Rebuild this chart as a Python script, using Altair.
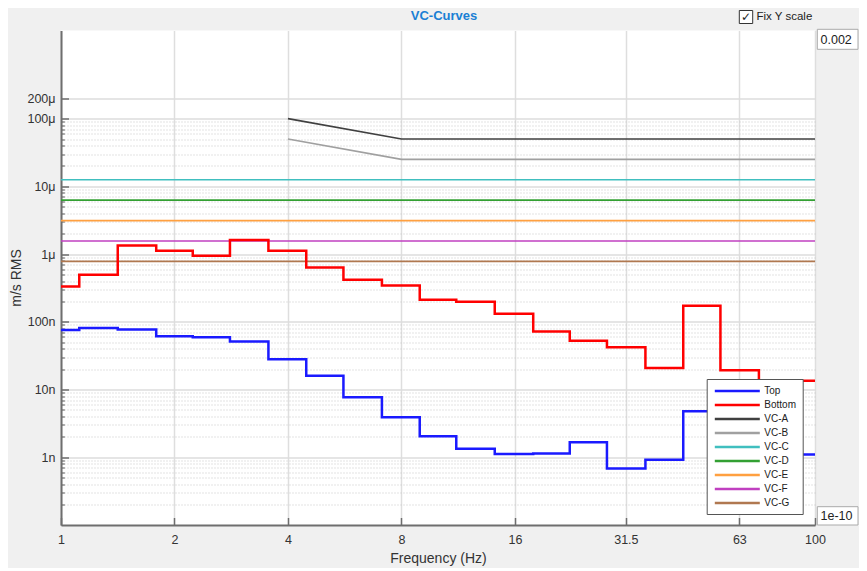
import altair as alt
import pandas as pd

# ---------------- data ----------------
freqs = [1, 1.25, 1.6, 2, 2.5, 3.15, 4, 5, 6.3, 8, 10, 12.5, 16, 20, 25, 31.5, 40, 50, 63, 80, 100]
top_vals = [76e-9, 81e-9, 77e-9, 61e-9, 59e-9, 51e-9, 28e-9, 16e-9, 7.7e-9, 3.9e-9, 2.04e-9,
            1.34e-9, 1.12e-9, 1.14e-9, 1.66e-9, 0.68e-9, 0.92e-9, 4.8e-9, 4.5e-9, 2.5e-9, 1.10e-9]
bottom_vals = [333e-9, 495e-9, 1.34e-6, 1.12e-6, 0.944e-6, 1.62e-6, 1.12e-6, 634e-9, 418e-9, 344e-9,
               212e-9, 198e-9, 131e-9, 72e-9, 52.6e-9, 42e-9, 20.8e-9, 173e-9, 19.2e-9, 13.5e-9, 13.5e-9]

vc_a_freq = [4, 8, 100]
vc_a_vals = [100e-6, 50e-6, 50e-6]
vc_b_freq = [4, 8, 100]
vc_b_vals = [50e-6, 25e-6, 25e-6]
flat_freq = [1, 100]
vc_c_val = 12.5e-6
vc_d_val = 6.25e-6
vc_e_val = 3.12e-6
vc_f_val = 1.56e-6
vc_g_val = 0.78e-6

series_names = ["Top", "Bottom", "VC-A", "VC-B", "VC-C", "VC-D", "VC-E", "VC-F", "VC-G"]
series_colors = ["#1a1aff", "#ff0000", "#404040", "#a0a0a0", "#40bfbf", "#33a033", "#ffa040", "#c040c0", "#b07850"]

x_ticks = [1, 2, 4, 8, 16, 31.5, 63, 100]
y_major = [1e-9, 1e-8, 1e-7, 1e-6, 1e-5, 1e-4, 2e-4]
y_major_labels = ["1n", "10n", "100n", "1μ", "10μ", "100μ", "200μ"]
y_minor = [m * 10.0 ** e for e in range(-10, -4) for m in range(2, 10)]

# ---------------- tables ----------------
top_df = pd.DataFrame({"freq": freqs, "value": top_vals, "series": ["Top"] * len(freqs)})
bottom_df = pd.DataFrame({"freq": freqs, "value": bottom_vals, "series": ["Bottom"] * len(freqs)})

vc_rows = []
for f, v in zip(vc_a_freq, vc_a_vals):
    vc_rows.append(("VC-A", f, v))
for f, v in zip(vc_b_freq, vc_b_vals):
    vc_rows.append(("VC-B", f, v))
for name, v in [("VC-C", vc_c_val), ("VC-D", vc_d_val), ("VC-E", vc_e_val),
                ("VC-F", vc_f_val), ("VC-G", vc_g_val)]:
    for f in flat_freq:
        vc_rows.append((name, f, v))
vc = pd.DataFrame(vc_rows, columns=["series", "freq", "value"])

FONT = "Liberation Sans"
AXIS_GRAY = "#6e6e6e"

label_expr = " : ".join(
    f"abs(datum.value/{v!r}-1)<1e-6 ? '{lab}'" for v, lab in zip(y_major, y_major_labels)
) + " : ''"
major_test = "datum.value > 1.5e-4 || abs(log(datum.value)/LN10 - round(log(datum.value)/LN10)) < 0.01"

x_scale = alt.Scale(type="log", domain=[1, 100], nice=False)
y_scale = alt.Scale(type="log", domain=[1e-10, 0.002], nice=False)

# main axes: labels, grid, domain, titles (no ticks)
x_main = alt.X("freq:Q", scale=x_scale, axis=alt.Axis(
    orient="bottom", values=x_ticks, labelExpr="'' + datum.value", title="Frequency (Hz)",
    ticks=False, grid=True, gridColor="#dedede", gridWidth=1.5,
    domainColor=AXIS_GRAY, domainWidth=2,
    labelFont=FONT, labelFontSize=12.5, labelColor="#333333", labelPadding=8,
    labelFlush=False, labelOverlap=False,
    titleFont=FONT, titleFontSize=14, titleFontWeight="normal", titleColor="#333333",
    titleY=33, titleBaseline="middle",
))
y_main = alt.Y("value:Q", scale=y_scale, axis=alt.Axis(
    orient="left", values=sorted(y_major + y_minor), labelExpr=label_expr, title="m/s RMS",
    ticks=False, grid=True,
    gridColor={"condition": {"test": major_test, "value": "#dcdcdc"}, "value": "#c6c6c6"},
    gridDash={"condition": {"test": major_test, "value": []}, "value": [1, 2]},
    gridWidth={"condition": {"test": major_test, "value": 1.5}, "value": 1},
    domainColor=AXIS_GRAY, domainWidth=2,
    labelFont=FONT, labelFontSize=12.5, labelColor="#333333", labelPadding=6,
    labelFlush=False, labelOverlap=False,
    titleFont=FONT, titleFontSize=14, titleFontWeight="normal", titleColor="#333333",
    titleX=-45, titleY=247, titleAngle=270, titleAlign="center", titleBaseline="middle",
))

# inward major ticks
x_ticks_in = alt.X("freq:Q", scale=x_scale, axis=alt.Axis(
    orient="bottom", values=x_ticks, labels=False, domain=False, grid=False, title=None,
    ticks=True, tickSize=7.5, offset=-7.5, tickColor=AXIS_GRAY, tickWidth=1.5,
))
y_ticks_in = alt.Y("value:Q", scale=y_scale, axis=alt.Axis(
    orient="left", values=y_major, labels=False, domain=False, grid=False, title=None,
    ticks=True, tickSize=7.5, offset=-7.5, tickColor=AXIS_GRAY, tickWidth=1.5,
))
# inward minor ticks
y_minor_in = alt.Y("value:Q", scale=y_scale, axis=alt.Axis(
    orient="left", values=y_minor, labels=False, domain=False, grid=False, title=None,
    ticks=True, tickSize=3.3, offset=-3.3, tickColor=AXIS_GRAY, tickWidth=1.2,
))
x_none = alt.X("freq:Q", scale=x_scale, axis=None)

color_enc = alt.Color(
    "series:N",
    scale=alt.Scale(domain=series_names, range=series_colors),
    legend=alt.Legend(
        title=None, orient="none", legendX=645.7, legendY=348.5,
        fillColor="white", strokeColor="#555555", padding=6,
        symbolType="M-5,0H5", symbolSize=81, symbolStrokeWidth=2.5,
        symbolOffset=18.6, labelOffset=21, rowPadding=3,
        labelFont=FONT, labelFontSize=10, labelColor="#222222",
    ),
    sort=series_names,
)

vc_layer = alt.Chart(vc).mark_line(strokeWidth=1.6).encode(
    x=x_main, y=y_main, color=color_enc, detail="series:N"
)
top_layer = alt.Chart(top_df).mark_line(strokeWidth=2.5, interpolate="step").encode(
    x=x_ticks_in, y=y_ticks_in, color=color_enc
)
bottom_layer = alt.Chart(bottom_df).mark_line(strokeWidth=2.5, interpolate="step").encode(
    x=x_none, y=y_minor_in, color=color_enc
)

# ---------- decorations (UI widgets of the original window) ----------
ui = pd.DataFrame({"k": [0]})
title_text = alt.Chart(ui).mark_text(text="VC-Curves", font=FONT, fontSize=13, fontWeight="bold",
                                     color="#1a7fd4", align="center", baseline="middle").encode(
    x=alt.value(383), y=alt.value(-15)
)
chk_box = alt.Chart(ui).mark_rect(fill="white", stroke="#333333", strokeWidth=1).encode(
    x=alt.value(678.3), x2=alt.value(691.7), y=alt.value(-20), y2=alt.value(-7)
)
chk_mark = alt.Chart(ui).mark_text(text="✓", font="DejaVu Sans", fontSize=12, color="#222222",
                                   align="center", baseline="middle").encode(
    x=alt.value(685), y=alt.value(-13.5)
)
chk_text = alt.Chart(ui).mark_text(text="Fix Y scale", font=FONT, fontSize=11.5, color="#222222",
                                   align="left", baseline="middle").encode(
    x=alt.value(695.5), y=alt.value(-13.5)
)
top_box = alt.Chart(ui).mark_rect(fill="white", stroke="#aaaaaa", strokeWidth=1).encode(
    x=alt.value(756.3), x2=alt.value(797), y=alt.value(-1.2), y2=alt.value(18.8)
)
top_text = alt.Chart(ui).mark_text(text="0.002", font=FONT, fontSize=12.5, color="#222222",
                                   align="left", baseline="middle").encode(
    x=alt.value(759.5), y=alt.value(9)
)
bot_box = alt.Chart(ui).mark_rect(fill="white", stroke="#aaaaaa", strokeWidth=1).encode(
    x=alt.value(756.3), x2=alt.value(797), y=alt.value(476.2), y2=alt.value(494.5)
)
bot_text = alt.Chart(ui).mark_text(text="1e-10", font=FONT, fontSize=12.5, color="#222222",
                                   align="left", baseline="middle").encode(
    x=alt.value(759.5), y=alt.value(485.5)
)

chart = alt.layer(
    vc_layer, top_layer, bottom_layer,
    title_text, chk_box, chk_mark, chk_text, top_box, top_text, bot_box, bot_text
).resolve_scale(x="shared", y="shared").resolve_axis(x="independent", y="independent").properties(
    width=754, height=494.5,
    autosize=alt.AutoSizeParams(type="none"),
    padding={"left": 53, "top": 22.5, "right": 44, "bottom": 43},
    background="#f0f0f0",
).configure_view(fill="white", strokeWidth=0)

chart.save("out.html", embed_options={"renderer": "svg", "actions": False})
